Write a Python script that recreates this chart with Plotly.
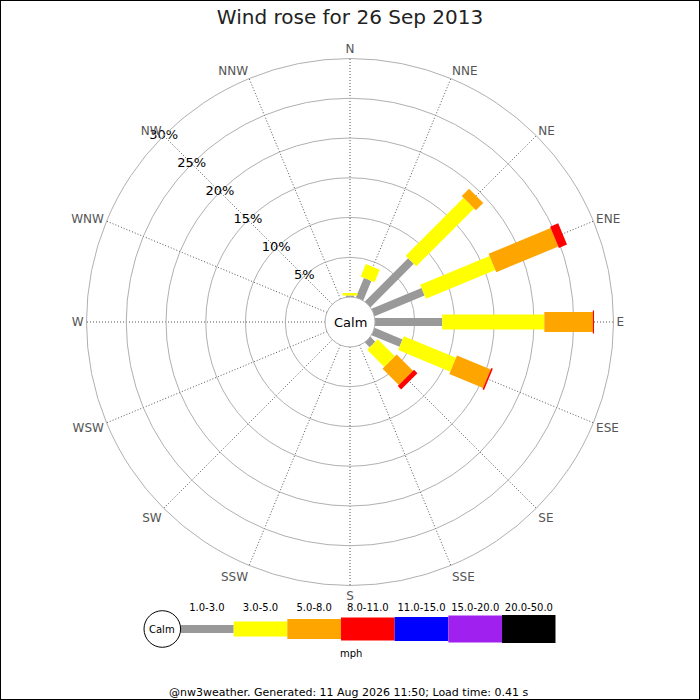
import numpy as np
import plotly.graph_objects as go

# wind rose data, % of time per direction and speed class
directions = ['N', 'NNE', 'NE', 'ENE', 'E', 'ESE', 'SE', 'SSE',
              'S', 'SSW', 'SW', 'WSW', 'W', 'WNW', 'NW', 'NNW']
speed_classes = ['1.0-3.0', '3.0-5.0', '5.0-8.0', '8.0-11.0',
                 '11.0-15.0', '15.0-20.0', '20.0-50.0']
freq_1_3 = [0.2, 2.65, 7.7, 6.8, 8.45, 3.8, 0.85, 0, 0, 0, 0, 0, 0, 0, 0, 0]
freq_3_5 = [0.3, 1.7, 10.3, 9.45, 12.85, 7.1, 3.05, 0, 0, 0, 0, 0, 0, 0, 0, 0]
freq_5_8 = [0, 0, 1.3, 8.45, 6.1, 4.6, 2.9, 0, 0, 0, 0, 0, 0, 0, 0, 0]
freq_8_11 = [0, 0, 0, 1.1, 0.15, 0.2, 0.6, 0, 0, 0, 0, 0, 0, 0, 0, 0]
freq_11_15 = [0] * 16
freq_15_20 = [0] * 16
freq_20_50 = [0] * 16
pct_rings = [5, 10, 15, 20, 25, 30]

colours = ['#999999', '#ffff00', '#ffa500', '#ff0000', '#0000ff', '#a020f0', '#000000']
widths = [8, 15, 20, 23, 24, 27, 28]

freqs = np.array([freq_1_3, freq_3_5, freq_5_8, freq_8_11,
                  freq_11_15, freq_15_20, freq_20_50])
cum = np.cumsum(freqs, axis=0)
angles = [i * 22.5 for i in range(16)]

W = 700
font = 'DejaVu Sans'
fig = go.Figure()

for k in range(len(speed_classes)):
    rr, tt = [], []
    for i, a in enumerate(angles):
        lo = cum[k - 1][i] if k > 0 else 0
        hi = cum[k][i]
        if hi - lo <= 0:
            continue
        rr += [lo, hi, None]
        tt += [a, a, None]
    if rr:
        fig.add_trace(go.Scatterpolar(r=rr, theta=tt, mode='lines',
                                      line=dict(color=colours[k], width=widths[k]),
                                      hoverinfo='skip', showlegend=False))

# percentage labels along NW spoke
fig.add_trace(go.Scatterpolar(r=pct_rings, theta=[315] * len(pct_rings), mode='text',
                              text=['%d%%' % p for p in pct_rings],
                              textfont=dict(family=font, size=13, color='black'),
                              hoverinfo='skip', showlegend=False))

# legend strip as a small bar chart
heights = widths
fig.add_trace(go.Bar(x=list(range(7)), y=heights, base=[-h / 2 for h in heights],
                     width=1, marker=dict(color=colours, line=dict(width=0)),
                     xaxis='x', yaxis='y', hoverinfo='skip', showlegend=False))

cx, cy, R = 350, 322, 263.5
fig.update_layout(
    width=W, height=W,
    margin=dict(l=0, r=0, t=0, b=0),
    paper_bgcolor='white', plot_bgcolor='white',
    font=dict(family=font),
    title=dict(text='Wind rose for 26 Sep 2013', x=0.5, xanchor='center',
               y=1 - 17 / W, yanchor='middle', yref='paper',
               font=dict(family=font, size=20, color='#222222')),
    polar=dict(
        domain=dict(x=[(cx - R) / W, (cx + R) / W],
                    y=[1 - (cy + R) / W, 1 - (cy - R) / W]),
        hole=25 / R,
        bgcolor='white',
        radialaxis=dict(range=[0, 30], tickvals=[0] + pct_rings, showticklabels=False,
                        showline=False, ticks='', gridcolor='#b0b0b0', gridwidth=1),
        angularaxis=dict(rotation=90, direction='clockwise', tickmode='array',
                         tickvals=angles, ticktext=directions, ticks='',
                         tickfont=dict(family=font, size=12, color='#555555'),
                         showline=True, linecolor='#b0b0b0', linewidth=1,
                         gridcolor='#555555', griddash='1px,2px', gridwidth=1),
    ),
    xaxis=dict(domain=[180 / W, 555.7 / W], range=[-0.5, 6.5], side='top',
               tickmode='array', tickvals=list(range(7)), ticktext=speed_classes,
               tickfont=dict(family=font, size=10, color='black'),
               showgrid=False, zeroline=False, showline=False, ticks='', fixedrange=True),
    yaxis=dict(domain=[1 - 644 / W, 1 - 614 / W], range=[-15, 15], visible=False,
               fixedrange=True),
    shapes=[
        dict(type='circle', xref='paper', yref='paper',
             x0=(162.3 - 18.3) / W, x1=(162.3 + 18.3) / W,
             y0=1 - (629 + 18.3) / W, y1=1 - (629 - 18.3) / W,
             line=dict(color='black', width=1), fillcolor='white'),
        dict(type='rect', xref='paper', yref='paper', x0=0, x1=1, y0=0, y1=1,
             line=dict(color='black', width=2)),
    ],
    annotations=[
        dict(text='Calm', x=cx / W, y=1 - cy / W, xref='paper', yref='paper',
             xanchor='center', yanchor='middle',
             showarrow=False, font=dict(family=font, size=13, color='black')),
        dict(text='Calm', x=162.3 / W, y=1 - 629 / W, xref='paper', yref='paper',
             xanchor='center', yanchor='middle',
             showarrow=False, font=dict(family=font, size=10, color='black')),
        dict(text='mph', x=351 / W, y=1 - 653 / W, xref='paper', yref='paper',
             xanchor='center', yanchor='middle',
             showarrow=False, font=dict(family=font, size=10, color='black')),
        dict(text='@nw3weather. Generated: 11 Aug 2026 11:50; Load time: 0.41 s',
             x=348 / W, y=1 - 692 / W, xref='paper', yref='paper',
             xanchor='center', yanchor='middle',
             showarrow=False, font=dict(family=font, size=11, color='black')),
    ],
)

fig.write_html('out.html', config={'displayModeBar': False},
               post_script="document.body.style.margin='0';")
